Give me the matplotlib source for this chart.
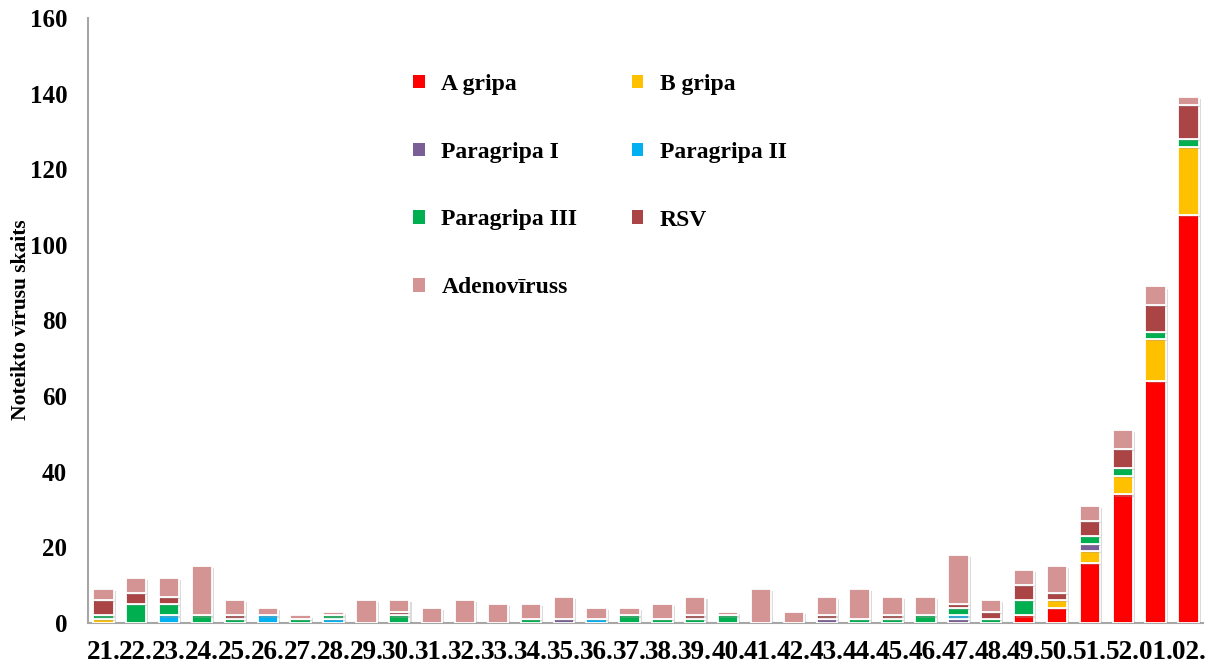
import matplotlib
matplotlib.use("Agg")
import matplotlib.pyplot as plt
import matplotlib.patheffects as pe
import numpy as np

weeks = ["21.", "22.", "23.", "24.", "25.", "26.", "27.", "28.", "29.", "30.",
         "31.", "32.", "33.", "34.", "35.", "36.", "37.", "38.", "39.", "40.",
         "41.", "42.", "43.", "44.", "45.", "46.", "47.", "48.", "49.", "50.",
         "51.", "52.", "01.", "02."]

a_gripa =      [0, 0, 0, 0, 0, 0, 0, 0, 0, 0, 0, 0, 0, 0, 0, 0, 0, 0, 0, 0, 0, 0, 0, 0, 0, 0, 0, 0, 2, 4, 16, 34, 64, 108]
b_gripa =      [1, 0, 0, 0, 0, 0, 0, 0, 0, 0, 0, 0, 0, 0, 0, 0, 0, 0, 0, 0, 0, 0, 0, 0, 0, 0, 0, 0, 0, 2, 3, 5, 11, 18]
paragripa_1 =  [0, 0, 0, 0, 0, 0, 0, 0, 0, 0, 0, 0, 0, 0, 1, 0, 0, 0, 0, 0, 0, 0, 1, 0, 0, 0, 1, 0, 0, 0, 2, 0, 0, 0]
paragripa_2 =  [0, 0, 2, 0, 0, 2, 0, 1, 0, 0, 0, 0, 0, 0, 0, 1, 0, 0, 0, 0, 0, 0, 0, 0, 0, 0, 1, 0, 0, 0, 0, 0, 0, 0]
paragripa_3 =  [1, 5, 3, 2, 1, 0, 1, 1, 0, 2, 0, 0, 0, 1, 0, 0, 2, 1, 1, 2, 0, 0, 0, 1, 1, 2, 2, 1, 4, 0, 2, 2, 2, 2]
rsv =          [4, 3, 2, 0, 1, 0, 0, 0, 0, 1, 0, 0, 0, 0, 0, 0, 0, 0, 1, 0, 0, 0, 1, 0, 1, 0, 1, 2, 4, 2, 4, 5, 7, 9]
adenovirus =   [3, 4, 5, 13, 4, 2, 1, 1, 6, 3, 4, 6, 5, 4, 6, 3, 2, 4, 5, 1, 9, 3, 5, 8, 5, 5, 13, 3, 4, 7, 4, 5, 5, 2]

series = [
    ("A gripa", a_gripa, "#FF0000"),
    ("B gripa", b_gripa, "#FFC000"),
    ("Paragripa I", paragripa_1, "#7A5F96"),
    ("Paragripa II", paragripa_2, "#00B0F0"),
    ("Paragripa III", paragripa_3, "#00B050"),
    ("RSV", rsv, "#AB4545"),
    ("Adenovīruss", adenovirus, "#D49494"),
]

plt.rcParams['font.family'] = ['Liberation Serif', 'DejaVu Serif']
plt.rcParams['font.weight'] = 'bold'

fig = plt.figure(figsize=(12.14, 6.69), dpi=100)
ax = fig.add_axes([88/1214, 1-623/669, (1203-88)/1214, (623-18)/669])

x = np.arange(len(weeks))
bottom = np.zeros(len(weeks))
shadow = [pe.SimplePatchShadow(offset=(1.5, -1.5), shadow_rgbFace='#999999', alpha=0.35), pe.Normal()]
for name, vals, col in series:
    v = np.array(vals, dtype=float)
    bars = ax.bar(x, v, bottom=bottom, width=0.62, color=col, edgecolor='white',
                  linewidth=1.3, label=name, zorder=3)
    for b, val in zip(bars, v):
        if val > 0:
            b.set_path_effects(shadow)
    bottom += v

ax.set_xlim(-0.466, len(weeks) - 1 + 0.44)
ax.set_ylim(0, 160)
ax.set_yticks(np.arange(0, 161, 20))
ax.set_xticks(x)
ax.set_xticklabels(weeks)
ax.tick_params(axis='both', length=0)
ax.tick_params(axis='y', pad=15, labelsize=18)
ax.tick_params(axis='x', pad=12, labelsize=19.5)
for lab in ax.get_xticklabels() + ax.get_yticklabels():
    lab.set_fontweight('bold')
for s in ['top', 'right']:
    ax.spines[s].set_visible(False)
for s in ['left', 'bottom']:
    ax.spines[s].set_color('#A6A6A6')
    ax.spines[s].set_linewidth(1.5)

fig.text(21/1214, 1-320/669, "Noteikto vīrusu skaits", rotation=90,
         ha='center', va='center', fontsize=15.5, fontweight='bold')

order = ["A gripa", "Paragripa I", "Paragripa III", "Adenovīruss", "B gripa", "Paragripa II", "RSV"]
leg_handles = []
for n in order:
    col = [c for nm, _, c in series if nm == n][0]
    leg_handles.append(plt.Rectangle((0, 0), 1, 1, facecolor=col, edgecolor='none'))
leg = ax.legend(leg_handles, order, ncol=2, frameon=False,
                loc='upper left', bbox_to_anchor=(413/1214, 1-74/669),
                bbox_transform=fig.transFigure, borderpad=0, borderaxespad=0,
                handlelength=0.5, handleheight=0.5, handletextpad=0.7,
                labelspacing=1.98, columnspacing=2.3,
                prop={'family': 'Liberation Serif', 'weight': 'bold', 'size': 17})

fig.savefig("out.png", dpi=100)
